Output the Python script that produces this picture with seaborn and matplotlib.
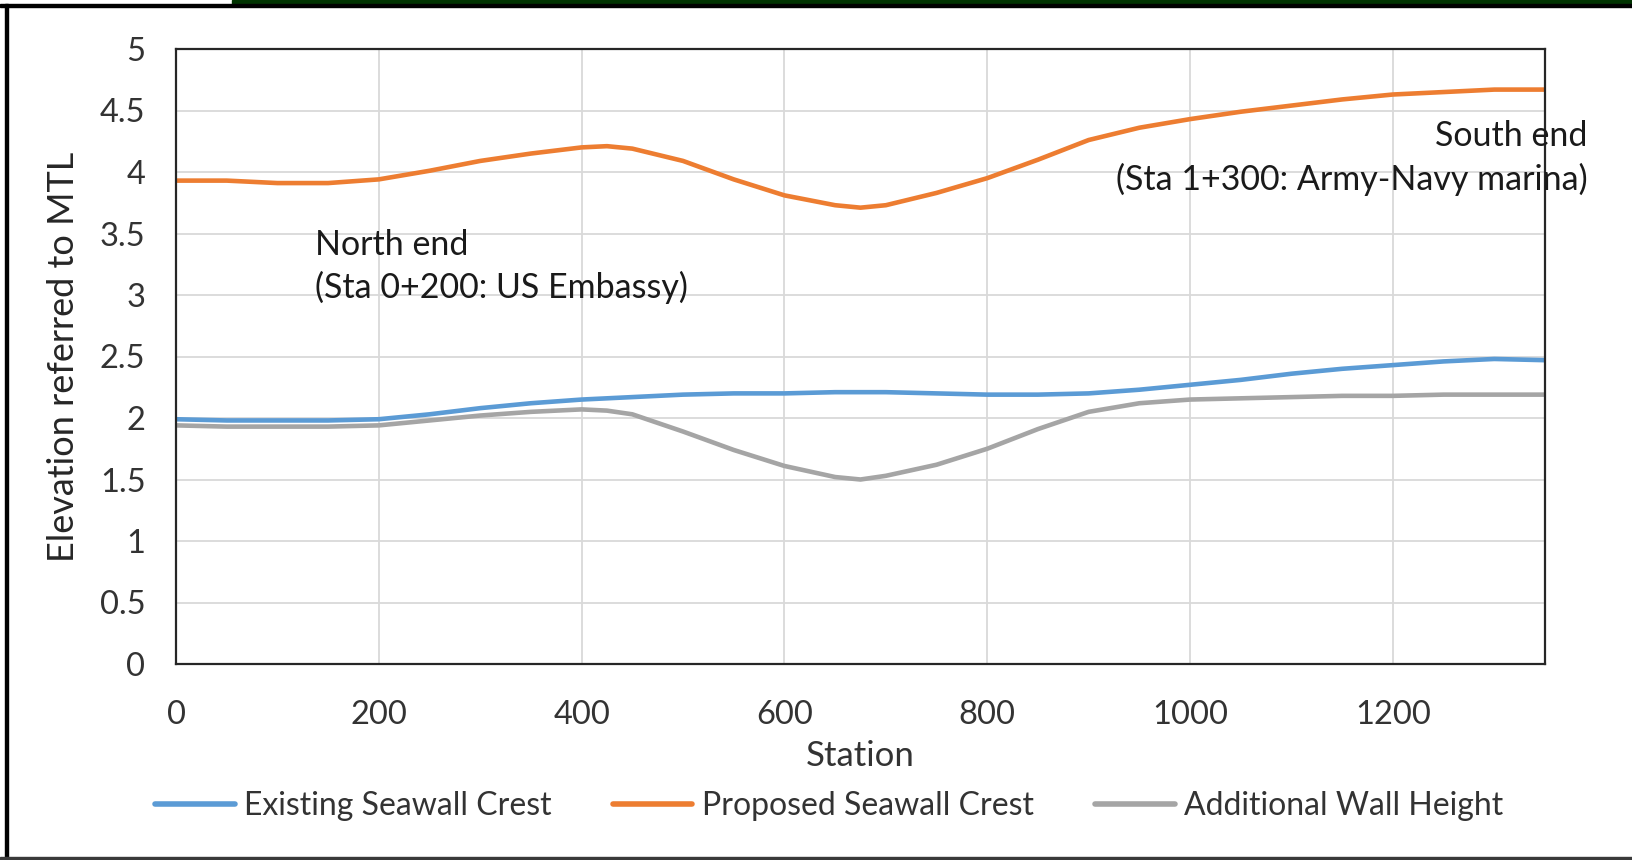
import matplotlib
matplotlib.use("Agg")
import pandas as pd
import matplotlib.pyplot as plt
import seaborn as sns
from matplotlib.patches import Rectangle

# =========================================================
# DATA
# =========================================================

stations = [0, 50, 100, 150, 200, 250, 300, 350, 400, 425, 450, 500, 550, 600,
            650, 675, 700, 750, 800, 850, 900, 950, 1000, 1050, 1100, 1150,
            1200, 1250, 1300, 1350]

existing_crest = [1.99, 1.98, 1.98, 1.98, 1.99, 2.03, 2.08, 2.12, 2.15, 2.16,
                  2.17, 2.19, 2.20, 2.20, 2.21, 2.21, 2.21, 2.20, 2.19, 2.19,
                  2.20, 2.23, 2.27, 2.31, 2.36, 2.40, 2.43, 2.46, 2.48, 2.47]

proposed_crest = [3.93, 3.93, 3.91, 3.91, 3.94, 4.01, 4.09, 4.15, 4.20, 4.21,
                  4.19, 4.09, 3.94, 3.81, 3.73, 3.71, 3.73, 3.83, 3.95, 4.10,
                  4.26, 4.36, 4.43, 4.49, 4.54, 4.59, 4.63, 4.65, 4.67, 4.67]

additional_wall = [1.94, 1.93, 1.93, 1.93, 1.94, 1.98, 2.02, 2.05, 2.07, 2.06,
                   2.03, 1.89, 1.74, 1.61, 1.52, 1.50, 1.53, 1.62, 1.75, 1.91,
                   2.05, 2.12, 2.15, 2.16, 2.17, 2.18, 2.18, 2.19, 2.19, 2.19]

series_names = ["Existing Seawall Crest", "Proposed Seawall Crest", "Additional Wall Height"]
series_colors = ["#5B9BD5", "#ED7D31", "#A5A5A5"]

x_ticks = [0, 200, 400, 600, 800, 1000, 1200]
y_ticks = [0, 0.5, 1, 1.5, 2, 2.5, 3, 3.5, 4, 4.5, 5]
y_tick_labels = ["0", "0.5", "1", "1.5", "2", "2.5", "3", "3.5", "4", "4.5", "5"]

north_note = "North end\n(Sta 0+200: US Embassy)"
south_note = "South end\n(Sta 1+300: Army-Navy marina)"

# =========================================================
# LONG FORM TABLE
# =========================================================

frames = []
for name, vals in zip(series_names, [existing_crest, proposed_crest, additional_wall]):
    frames.append(pd.DataFrame({"Station": stations, "Elevation": vals, "Series": name}))
df = pd.concat(frames, ignore_index=True)

# =========================================================
# PLOT
# =========================================================

sns.set_theme(style="white")
plt.rcParams["font.family"] = ["Lato", "DejaVu Sans"]

fig = plt.figure(figsize=(16.32, 8.6), dpi=100)
ax = fig.add_axes([176 / 1632, 1 - 664 / 860, 1369 / 1632, 615 / 860])

sns.lineplot(
    data=df, x="Station", y="Elevation", hue="Series",
    hue_order=series_names, palette=series_colors,
    linewidth=3.3, ax=ax, legend=False,
)
for ln in ax.lines:
    ln.set_solid_capstyle("round")
    ln.set_solid_joinstyle("round")

ax.set_xlim(0, 1350)
ax.set_ylim(0, 5)
ax.set_xticks(x_ticks)
ax.set_yticks(y_ticks)
ax.set_yticklabels(y_tick_labels)
ax.grid(True, color="#D9D9D9", linewidth=1.3)
ax.set_axisbelow(True)
for sp in ax.spines.values():
    sp.set_color("#262626")
    sp.set_linewidth(1.6)
ax.tick_params(axis="both", length=0, labelsize=23.5, labelcolor="#333333")
ax.tick_params(axis="y", pad=22)
ax.tick_params(axis="x", pad=26)

ax.set_xlabel("Station", fontsize=25, color="#333333", labelpad=7)
ax.set_ylabel("Elevation referred to MTL", fontsize=26, color="#262626", labelpad=14)

ax.text(137, 3.54, north_note, fontsize=24.5, color="#1a1a1a",
        ha="left", va="top", linespacing=1.38)
ax.text(1.031, 0.885, south_note, transform=ax.transAxes, fontsize=24.5,
        color="#1a1a1a", ha="right", va="top", linespacing=1.42,
        multialignment="right", clip_on=False)

handles = [plt.Line2D([], [], color=c, linewidth=4, solid_capstyle="round")
           for c in series_colors]
fig.legend(
    handles, series_names, loc="center", bbox_to_anchor=(0.508, 0.063),
    ncol=3, frameon=False, fontsize=23, handlelength=2.5,
    handletextpad=0.3, columnspacing=1.9, labelcolor="#333333",
)

# screenshot frame
fig.patches.append(Rectangle((232 / 1632, 1 - 4 / 860), 1 - 232 / 1632, 4 / 860,
                             transform=fig.transFigure, color="#003300", zorder=5))
fig.patches.append(Rectangle((0, 1 - 7 / 860), 1, 3 / 860,
                             transform=fig.transFigure, color="#000000", zorder=5))
fig.patches.append(Rectangle((5 / 1632, 0), 3 / 1632, 1 - 4 / 860,
                             transform=fig.transFigure, color="#000000", zorder=5))
fig.patches.append(Rectangle((0, 0), 1, 3 / 860,
                             transform=fig.transFigure, color="#3a3a3a", zorder=5))

fig.savefig("out.png", dpi=100)
plt.close(fig)
print("saved out.png")
